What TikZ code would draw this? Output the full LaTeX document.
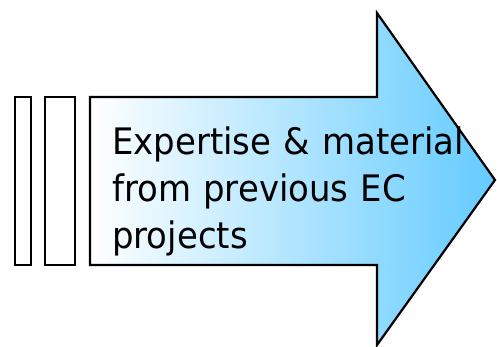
\documentclass[tikz,border=0pt]{standalone}
\usepackage{fontspec}
\newfontfamily\arrowfont[FakeStretch=0.93]{DejaVu Sans}
\definecolor{arrowblue}{RGB}{100,203,255}
\begin{document}
\begin{tikzpicture}[x=1pt,y=-1pt,
  outl/.style={draw=black,line width=2.2pt,line join=miter},
  barbox/.style={outl,fill=white},
  lbl/.style={font=\arrowfont\fontsize{36.5}{47}\selectfont,align=left,inner sep=0pt,text width=400pt}]
\useasboundingbox (0,0) rectangle (497,347);
\draw[barbox] (15,97) rectangle (31,265);
\draw[barbox] (45,97) rectangle (75,265);
\draw[outl,left color=white,right color=arrowblue]
  (90,97) -- (377,97) -- (377,13) -- (495,180) -- (377,345) -- (377,265) -- (90,265) -- cycle;
\node[lbl,anchor=base west] (txt) at (112,154.5) {Expertise \& material\\from previous EC\\projects};
\end{tikzpicture}
\end{document}
